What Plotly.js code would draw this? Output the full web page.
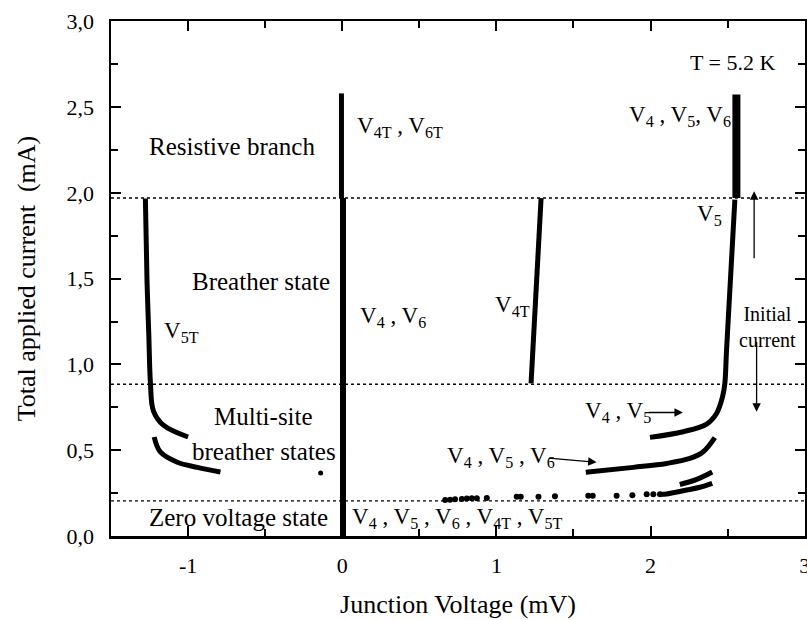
<!DOCTYPE html>
<html>
<head>
<meta charset="utf-8">
<script src="https://cdn.plot.ly/plotly-3.0.1.min.js"></script>
<style>
  html, body { margin: 0; padding: 0; background: #fff; }
  #chart { width: 807px; height: 620px; }
</style>
</head>
<body>
<div id="chart"></div>
<script>
// ---- data ----
const levelY = [1.97, 0.885, 0.205];           // dotted state boundaries (mA)
const levelX = [-1.5, 3];

const v5tX = [-1.277, -1.266, -1.255, -1.244, -1.225, -1.16, -1.0];
const v5tY = [1.967, 1.472, 1.18, 0.889, 0.73, 0.646, 0.577];

const multiLeftX = [-1.22, -1.18, -1.07, -0.94, -0.79];
const multiLeftY = [0.577, 0.49, 0.43, 0.40, 0.373];

const loneDotX = [-0.14];
const loneDotY = [0.367];

const zeroUpperX = [-0.005, -0.005];
const zeroUpperY = [1.97, 2.58];
const zeroLowerX = [0.005, 0.005];
const zeroLowerY = [0.0, 1.97];

const v4tX = [1.225, 1.29];
const v4tY = [0.89, 1.97];

const v5RightX = [1.996, 2.212, 2.364, 2.428, 2.467, 2.482, 2.493, 2.547];
const v5RightY = [0.575, 0.608, 0.652, 0.714, 0.811, 0.889, 1.083, 1.961];

const barX = [2.557, 2.557];
const barY = [1.97, 2.574];

const v456X = [1.58, 1.888, 2.104, 2.255, 2.342, 2.417];
const v456Y = [0.371, 0.40, 0.423, 0.452, 0.491, 0.573];

const shortX = [2.19, 2.30, 2.40];
const shortY = [0.30, 0.33, 0.373];

const tailX = [2.06, 2.104, 2.234, 2.32, 2.40];
const tailY = [0.244, 0.245, 0.268, 0.284, 0.307];

const dotsX = [0.668, 0.70, 0.732, 0.776, 0.808, 0.84, 0.873, 0.938, 1.132, 1.158, 1.273, 1.38, 1.596, 1.625, 1.78, 1.882, 1.975, 2.018, 2.061];
const dotsY = [0.21, 0.212, 0.214, 0.216, 0.218, 0.22, 0.22, 0.222, 0.229, 0.229, 0.229, 0.232, 0.235, 0.235, 0.235, 0.238, 0.243, 0.243, 0.244];

const yTickVals = [0, 0.5, 1.0, 1.5, 2.0, 2.5, 3.0];
const xTickVals = [-1, 0, 1, 2, 3];

// ---- traces ----
const black = '#000';
function line(x, y, w, extra) {
  return Object.assign({type: 'scatter', mode: 'lines', x: x, y: y,
    line: {color: black, width: w, shape: 'spline'}, hoverinfo: 'skip', showlegend: false}, extra || {});
}
const traces = [];
levelY.forEach(function (lv) {
  traces.push({type: 'scatter', mode: 'lines', x: levelX, y: [lv, lv],
    line: {color: black, width: 1.4, dash: '3px,3px'}, hoverinfo: 'skip', showlegend: false});
});
traces.push(line(v5tX, v5tY, 5));
traces.push(line(multiLeftX, multiLeftY, 5));
traces.push(line(zeroUpperX, zeroUpperY, 5));
traces.push(line(zeroLowerX, zeroLowerY, 6));
traces.push(line(v4tX, v4tY, 5));
traces.push(line(v5RightX, v5RightY, 5));
traces.push(line(barX, barY, 8));
traces.push(line(v456X, v456Y, 5));
traces.push(line(shortX, shortY, 5));
traces.push(line(tailX, tailY, 5));
traces.push({type: 'scatter', mode: 'markers', x: dotsX, y: dotsY,
  marker: {color: black, size: 6}, hoverinfo: 'skip', showlegend: false});
traces.push({type: 'scatter', mode: 'markers', x: loneDotX, y: loneDotY,
  marker: {color: black, size: 5}, hoverinfo: 'skip', showlegend: false});

// ---- annotations ----
const F = '"Liberation Serif", "Times New Roman", Times, serif';
function txt(x, y, text, size, xanchor) {
  return {x: x, y: y, xref: 'x', yref: 'y', text: text, showarrow: false,
    xanchor: xanchor || 'center', yanchor: 'middle', font: {family: F, size: size, color: black}};
}
function arrow(x0, y0, x1, y1) {
  return {x: x1, y: y1, ax: x0, ay: y0, xref: 'x', yref: 'y', axref: 'x', ayref: 'y',
    text: '', showarrow: true, arrowhead: 2, arrowsize: 1.3, arrowwidth: 1.3, arrowcolor: black};
}
const annotations = [
  txt(-0.713, 2.27, 'Resistive branch', 25),
  txt(-0.53, 1.481, 'Breather state', 25),
  txt(-0.51, 0.695, 'Multi-site', 25),
  txt(-0.51, 0.491, 'breather states', 25),
  txt(-0.675, 0.105, 'Zero voltage state', 25),
  txt(-1.167, 1.19, 'V<sub>5T</sub>', 23, 'left'),
  txt(0.084, 2.384, 'V<sub>4T</sub> , V<sub>6T</sub>', 23, 'left'),
  txt(0.104, 1.277, 'V<sub>4</sub> , V<sub>6</sub>', 23, 'left'),
  txt(0.98, 1.34, 'V<sub>4T</sub>', 23, 'left'),
  txt(2.535, 2.45, 'V<sub>4</sub> , V<sub>5</sub>, V<sub>6</sub>', 23, 'right'),
  txt(2.38, 1.87, 'V<sub>5</sub>', 23),
  txt(2.53, 2.76, 'T = 5.2 K', 22),
  txt(2.76, 1.22, 'Initial<br>current', 20),
  txt(1.56, 0.72, 'V<sub>4</sub> , V<sub>5</sub>', 23, 'left'),
  txt(0.665, 0.46, 'V<sub>4</sub> , V<sub>5</sub> , V<sub>6</sub>', 23, 'left'),
  txt(0.05, 0.105, 'V<sub>4</sub> , V<sub>5</sub> , V<sub>6</sub> , V<sub>4T</sub> , V<sub>5T</sub>', 23, 'left'),
  arrow(1.98, 0.72, 2.21, 0.72),
  arrow(1.33, 0.455, 1.65, 0.43),
  arrow(2.672, 1.61, 2.672, 2.01),
  arrow(2.688, 1.14, 2.688, 0.724)
];

const axisCommon = {
  showgrid: false, zeroline: false, showline: true, linecolor: black, linewidth: 2.5,
  mirror: 'ticks', ticks: 'inside', ticklen: 10, tickwidth: 2, tickcolor: black,
  tickfont: {family: F, size: 22, color: black}, ticklabeloverflow: 'allow'
};
const layout = {
  width: 807, height: 620,
  margin: {l: 111, r: 2, t: 21, b: 84},
  paper_bgcolor: '#fff', plot_bgcolor: '#fff',
  separators: ',.',
  showlegend: false,
  xaxis: Object.assign({}, axisCommon, {
    range: [-1.5, 3.002], tickmode: 'array', tickvals: xTickVals, ticktext: xTickVals.map(String),
    minor: {dtick: 0.5, tick0: 0, ticks: 'inside', ticklen: 7, tickwidth: 2, tickcolor: black},
    ticklabelstandoff: 8,
    title: {text: 'Junction Voltage (mV)', font: {family: F, size: 26, color: black}, standoff: 18}
  }),
  yaxis: Object.assign({}, axisCommon, {
    range: [0, 3.002], tickmode: 'array', tickvals: yTickVals, ticktext: yTickVals.map(function (v) { return v.toFixed(1).replace('.', ','); }),
    minor: {dtick: 0.25, tick0: 0, ticks: 'inside', ticklen: 7, tickwidth: 2, tickcolor: black},
    ticklabelstandoff: 10,
    title: {text: 'Total applied current&nbsp; (mA)', font: {family: F, size: 26, color: black}, standoff: 24}
  }),
  annotations: annotations
};
Plotly.newPlot('chart', traces, layout, {staticPlot: true, displayModeBar: false});
</script>
</body>
</html>
